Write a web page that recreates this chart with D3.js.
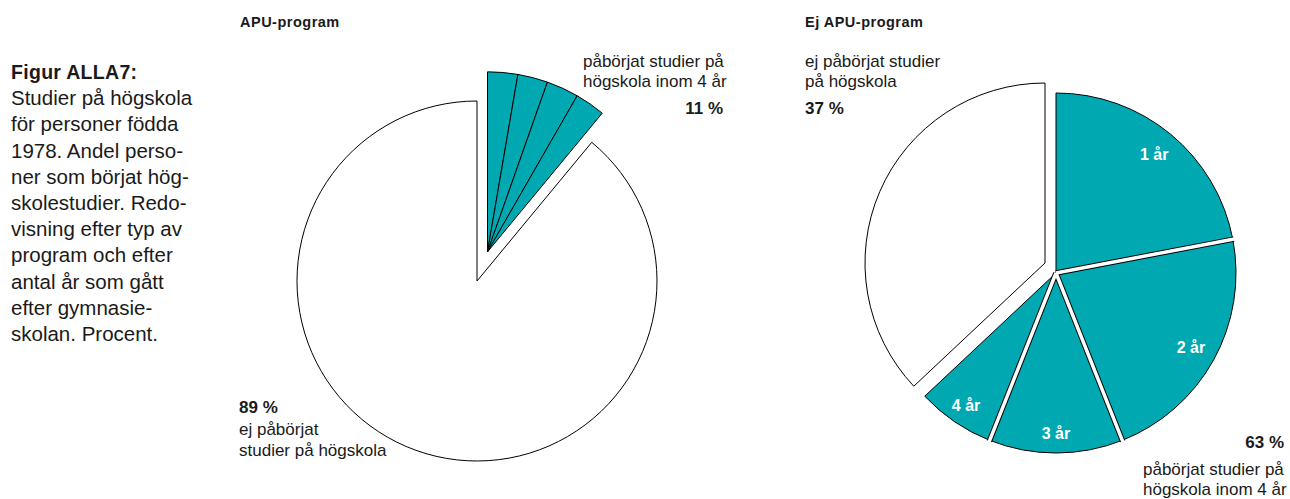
<!DOCTYPE html>
<html>
<head>
<meta charset="utf-8">
<script src="https://cdn.jsdelivr.net/npm/d3@7"></script>
<style>
  html, body { margin: 0; padding: 0; background: #fff; }
  svg { display: block; font-family: "Liberation Sans", Arial, sans-serif; }
</style>
</head>
<body>
<svg id="chart" width="1290" height="499"></svg>
<script>
// Data (procent) //
const yearLabels = ["1 år", "2 år", "3 år", "4 år"]
const apuYears = [2.7, 2.7, 2.9, 2.7]        // påbörjat studier, år efter gymnasiet
const apuNotStarted = 89
const ejApuYears = [22, 22, 12, 7]
const ejApuNotStarted = 37

const apuTitle = "APU-program"
const ejApuTitle = "Ej APU-program"
const captionTitle = "Figur ALLA7:"
const captionLines = [
    "Studier på högskola", "för personer födda", "1978. Andel perso-",
    "ner som börjat hög-", "skolestudier. Redo-", "visning efter typ av",
    "program och efter", "antal år som gått", "efter gymnasie-",
    "skolan. Procent."
]

const teal = "#00a9b1"
const ink = "#1a1a1a"
const R = 180

const svg = d3.select("#chart")

const pie = d3.pie().sort(null).value(d => d)
const arc = d3.arc().innerRadius(0).outerRadius(R)

// polar helper, angle from 12 o'clock clockwise
function polar(a, r) {
    return [r * Math.sin(a), -r * Math.cos(a)]
}

function textLines(g, lines, x, y, step, opts) {
    opts = opts || {}
    var t = g.append("text")
        .attr("x", x)
        .attr("y", y)
        .attr("fill", ink)
        .style("font-size", (opts.size || 17) + "px")
        .style("letter-spacing", (opts.spacing || 0) + "px")
        .attr("font-weight", opts.bold ? "bold" : "normal")
        .attr("text-anchor", opts.anchor || "start")
    lines.forEach((l, i) => {
        t.append("tspan").attr("x", x).attr("y", y + i * step).text(l)
    })
    return t
}


// Caption //
textLines(svg, [captionTitle], 11, 79, 26.2, {size: 19.5, bold: true, spacing: 0.3})
textLines(svg, captionLines, 11, 105.2, 26.2, {size: 20.5})


// APU pie (left) //
var left = svg.append("g").attr("transform", "translate(477,281)")
var leftArcs = pie(apuYears.concat([apuNotStarted]))
var leftStarted = leftArcs.slice(0, apuYears.length)
var leftMid = (leftStarted[0].startAngle + leftStarted[leftStarted.length - 1].endAngle) / 2
var leftOff = polar(leftMid, 31)

left.append("path")
    .attr("d", arc(leftArcs[apuYears.length]))
    .attr("fill", "#fff")
    .attr("stroke", "#000")
    .attr("stroke-width", 1)

left.append("g")
    .attr("transform", `translate(${leftOff[0]},${leftOff[1]})`)
    .selectAll("path")
    .data(leftStarted)
    .join("path")
    .attr("d", arc)
    .attr("fill", teal)
    .attr("stroke", "#000")
    .attr("stroke-width", 1)
    .attr("stroke-linejoin", "round")

svg.append("text").attr("x", 240).attr("y", 27)
    .attr("font-weight", "bold").attr("fill", ink)
    .style("font-size", "14.5px").style("letter-spacing", "0.5px")
    .text(apuTitle)

textLines(svg, ["påbörjat studier på", "högskola inom 4 år"], 583, 67, 20)
textLines(svg, [d3.sum(apuYears).toFixed(0) + " %"], 723, 114, 20, {bold: true, anchor: "end"})

textLines(svg, [apuNotStarted + " %"], 239, 413, 20, {bold: true})
textLines(svg, ["ej påbörjat", "studier på högskola"], 239, 435, 21)


// Ej APU pie (right) //
var right = svg.append("g").attr("transform", "translate(1050.5,268)")
var rightArcs = pie(ejApuYears.concat([ejApuNotStarted]))
var rightStarted = rightArcs.slice(0, ejApuYears.length)
var rightNot = rightArcs[ejApuYears.length]

right.append("path")
    .attr("transform", "translate(-5.5,-5)")
    .attr("d", arc(rightNot))
    .attr("fill", "#fff")
    .attr("stroke", "#000")
    .attr("stroke-width", 1)

var rightTeal = right.append("g").attr("transform", "translate(5.5,5)")

rightTeal.selectAll("path")
    .data(rightStarted)
    .join("path")
    .attr("d", arc)
    .attr("fill", teal)
    .attr("stroke", "#000")
    .attr("stroke-width", 1)

// white gaps between the year slices, edged in black
var seams = rightStarted.slice(0, rightStarted.length - 1).map(d => polar(d.endAngle, R + 1))

rightTeal.selectAll("line.edge")
    .data(seams)
    .join("line")
    .attr("class", "edge")
    .attr("x1", 0).attr("y1", 0)
    .attr("x2", d => d[0]).attr("y2", d => d[1])
    .attr("stroke", "#000")
    .attr("stroke-width", 5.5)

rightTeal.selectAll("line.gap")
    .data(seams)
    .join("line")
    .attr("class", "gap")
    .attr("x1", 0).attr("y1", 0)
    .attr("x2", d => d[0] * 1.01).attr("y2", d => d[1] * 1.01)
    .attr("stroke", "#fff")
    .attr("stroke-width", 3.5)

rightTeal.selectAll("text")
    .data(rightStarted)
    .join("text")
    .attr("transform", d => {
        var p = polar((d.startAngle + d.endAngle) / 2, d.index < 2 ? 154 : 160)
        return `translate(${p[0]},${p[1]})`
    })
    .attr("dy", "0.35em")
    .attr("text-anchor", "middle")
    .attr("fill", "#fff")
    .attr("font-weight", "bold")
    .style("font-size", "16px")
    .text((d, i) => yearLabels[i])

svg.append("text").attr("x", 805).attr("y", 27)
    .attr("font-weight", "bold").attr("fill", ink)
    .style("font-size", "14.5px").style("letter-spacing", "0.5px")
    .text(ejApuTitle)

textLines(svg, ["ej påbörjat studier", "på högskola"], 805, 67, 20)
textLines(svg, [ejApuNotStarted + " %"], 805, 114, 20, {bold: true})

textLines(svg, [d3.sum(ejApuYears) + " %"], 1284, 448, 20, {bold: true, anchor: "end"})
textLines(svg, ["påbörjat studier på", "högskola inom 4 år"], 1143, 475, 19.5)
</script>
</body>
</html>
